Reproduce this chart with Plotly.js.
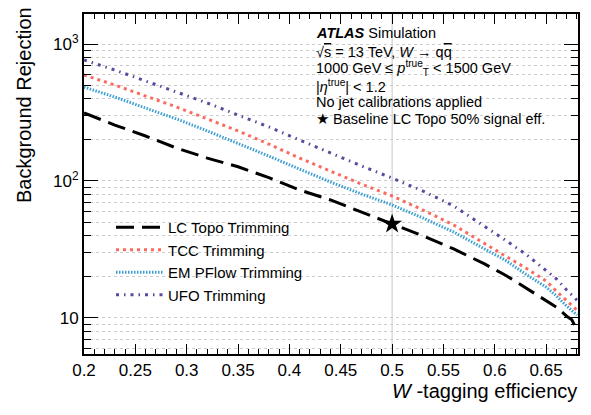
<!DOCTYPE html>
<html><head><meta charset="utf-8">
<script src="https://cdn.plot.ly/plotly-3.0.1.min.js"></script>
<style>html,body{margin:0;padding:0;background:#fff}</style>
</head><body><div id="chart" style="width:591px;height:415px"></div>
<script>
const efficiency = [0.20,0.23,0.26,0.29,0.32,0.35,0.38,0.41,0.44,0.47,0.50,0.53,0.56,0.59,0.61,0.63,0.65,0.66,0.67,0.68];
const tcc     = [594,502,417,347,284,232,186,147,118,95,77.7,61.4,47.7,34.7,28.4,23.2,18.6,15.7,13.3,11.4];
const emPFlow = [485,410,341,284,232,189,152,122,98.3,80.4,66.8,53.7,42.4,31.9,26.5,20.9,16.8,14.5,12.2,10.5];
const ufo     = [764,646,537,446,371,303,248,199,160,129,105,84.5,65.7,46.9,37.1,29.3,22.4,19.3,16.0,13.5];
const lcTopoEff = [0.20,0.23,0.26,0.29,0.32,0.35,0.38,0.41,0.44,0.47,0.50,0.53,0.56,0.59,0.61,0.63,0.65,0.66,0.67,0.675,0.68];
const lcTopo    = [314,256,213,174,147,127,105.7,86,72.7,59.4,48.5,39.7,31.9,24.8,20.6,16.6,13.5,12.0,10.3,9.7,8.2];
const baselineEff = [0.5];
const baselineRej = [48.5];
const seriesNames = ['LC Topo Trimming','TCC Trimming','EM PFlow Trimming','UFO Trimming'];
const yMajor = [10,100,1000];
const yMajorText = ['10','10<sup>2</sup>','10<sup>3</sup>'];
const yMinor = [6,7,8,9,20,30,40,50,60,70,80,90,200,300,400,500,600,700,800,900];
const xTitle = '<i>W</i> -tagging efficiency';
const yTitle = 'Background Rejection';
const infoLines = [
  '<b><i>ATLAS</i></b> Simulation',
  '√<span style="text-decoration:overline">s</span> = 13 TeV, <i>W</i> → q<span style="text-decoration:overline">q</span>',
  '1000 GeV ≤ <i>p</i><sup>true</sup><sub>T</sub> < 1500 GeV',
  '|<i>η</i><sup>true</sup>| < 1.2',
  'No jet calibrations applied',
  '★ Baseline LC Topo 50% signal eff.'
];

const FONT = 'Liberation Sans, Arial, Helvetica, sans-serif';
const L = 84, R = 578, T = 14, B = 354;
const px2x = p => (p - L) / (R - L);
const px2y = p => (B - p) / (B - T);
const XR = [0.2, 0.681], YR = [0.737, 3.219];

const traces = [
  {x: lcTopoEff, y: lcTopo, name: seriesNames[0], mode: 'lines', line: {color: '#000', width: 3, dash: '18px,8px'}},
  {x: efficiency, y: tcc, name: seriesNames[1], mode: 'lines', line: {color: '#fb6a5f', width: 3, dash: '3px,4px'}},
  {x: efficiency, y: emPFlow, name: seriesNames[2], mode: 'lines', line: {color: '#3a9fd0', width: 3, dash: '1.5px,1.5px'}},
  {x: efficiency, y: ufo, name: seriesNames[3], mode: 'lines', line: {color: '#5b4a9b', width: 3, dash: '3px,5px,1.5px,5px'}},
  {x: baselineEff, y: baselineRej, mode: 'markers', showlegend: false, marker: {symbol: 'star', size: 15, color: '#000'}},
  {x: [], y: [], xaxis: 'x2', yaxis: 'y2', mode: 'lines', showlegend: false, hoverinfo: 'skip'}
];

const infoY = [33, 52, 68, 86, 102, 119];
const annotations = infoLines.map((t, i) => ({
  text: t, xref: 'paper', yref: 'paper', x: px2x(314), y: px2y(infoY[i]),
  xanchor: 'left', yanchor: 'middle', showarrow: false, font: {size: 14.5, family: FONT, color: '#000'}
}));
annotations.push({text: yTitle, xref: 'paper', yref: 'paper', x: px2x(24), y: px2y(105), textangle: -90,
  xanchor: 'center', yanchor: 'middle', showarrow: false, font: {size: 20, family: FONT, color: '#000'}});
annotations.push({text: xTitle, xref: 'paper', yref: 'paper', x: 1.002, y: px2y(391),
  xanchor: 'right', yanchor: 'middle', showarrow: false, font: {size: 20, family: FONT, color: '#000'}});

const xTickCommon = {range: XR, tick0: 0.2, dtick: 0.05, ticks: 'inside', ticklen: 10, tickwidth: 1, tickcolor: '#000',
  showgrid: false, zeroline: false,
  minor: {dtick: 0.01, ticks: 'inside', ticklen: 5, tickwidth: 1, tickcolor: '#000', showgrid: false}};
const yTickCommon = {type: 'log', range: YR, tickmode: 'array', tickvals: yMajor, ticktext: yMajorText,
  ticks: 'inside', ticklen: 14, tickwidth: 1, tickcolor: '#000', zeroline: false};

const layout = {
  width: 591, height: 415,
  margin: {l: L, r: 591 - R, t: T, b: 415 - B},
  paper_bgcolor: '#fff', plot_bgcolor: '#fff',
  font: {family: FONT, size: 17, color: '#000'},
  showlegend: true,
  legend: {x: px2x(111), y: px2y(211), xanchor: 'left', yanchor: 'top', bgcolor: 'rgba(0,0,0,0)',
    font: {size: 15, family: FONT, color: '#000'}, itemwidth: 47, tracegroupgap: 0},
  xaxis: Object.assign({}, xTickCommon, {showline: true, linewidth: 2, linecolor: '#000', mirror: true, tickfont: {size: 17}}),
  xaxis2: Object.assign({}, xTickCommon, {overlaying: 'x', side: 'top', showticklabels: false, showline: false}),
  yaxis: Object.assign({}, yTickCommon, {showline: true, linewidth: 2, linecolor: '#000', mirror: true,
    showgrid: true, gridcolor: '#cccccc', griddash: 'dot', gridwidth: 1, tickfont: {size: 17},
    minor: {tickmode: 'array', tickvals: yMinor, ticks: 'inside', ticklen: 7, tickwidth: 1, tickcolor: '#000',
      showgrid: true, gridcolor: '#cccccc', griddash: 'dot', gridwidth: 1}}),
  yaxis2: Object.assign({}, yTickCommon, {overlaying: 'y', side: 'right', showticklabels: false, showline: false, showgrid: false,
    minor: {tickmode: 'array', tickvals: yMinor, ticks: 'inside', ticklen: 7, tickwidth: 1, tickcolor: '#000', showgrid: false}}),
  shapes: [{type: 'line', xref: 'x', yref: 'paper', x0: 0.5, x1: 0.5, y0: 0, y1: 1,
    line: {color: '#c8c8c8', width: 1}, layer: 'below'}],
  annotations: annotations
};

Plotly.newPlot('chart', traces, layout, {displayModeBar: false, staticPlot: true});
</script></body></html>
